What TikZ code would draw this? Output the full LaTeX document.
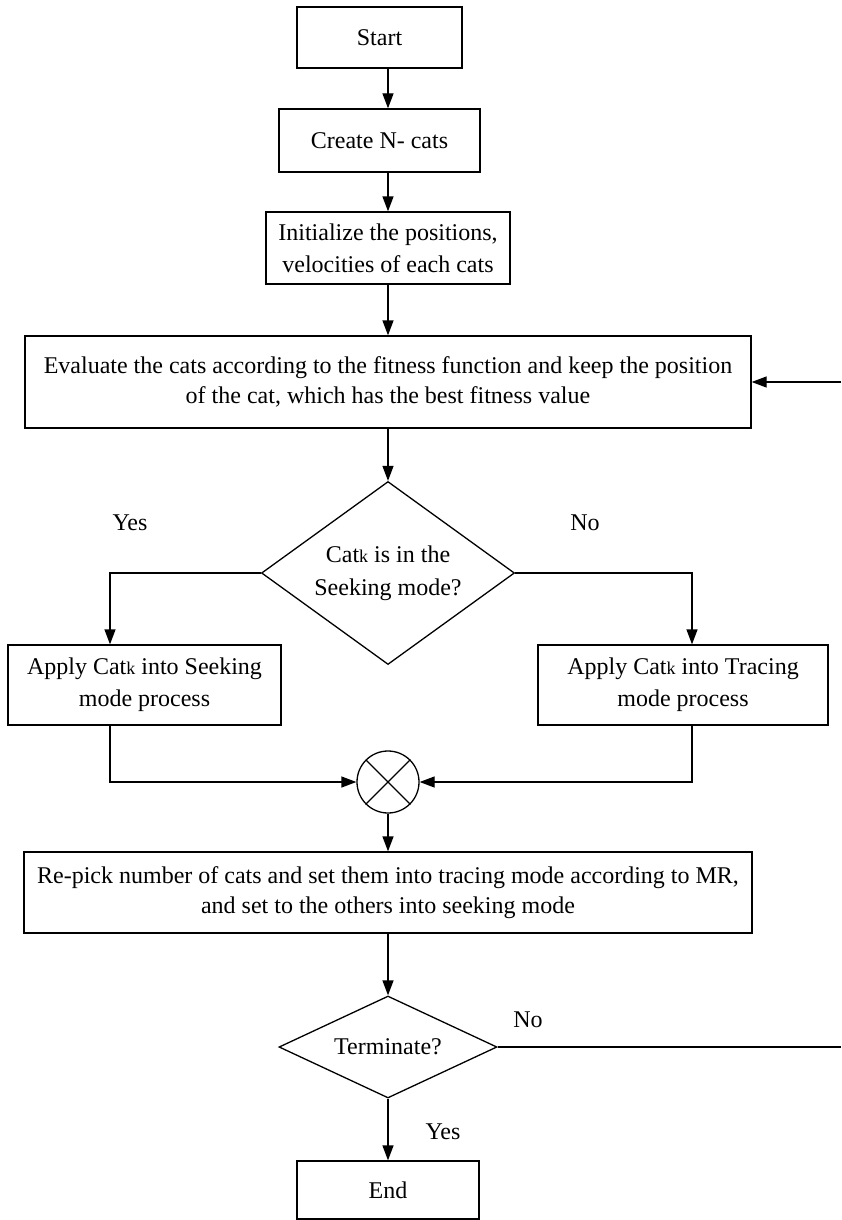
\documentclass[tikz,border=0pt]{standalone}
\usepackage{fontspec}
\setmainfont{Liberation Serif}
\usetikzlibrary{shapes.geometric,arrows.meta}
\newcommand{\smk}{{\fontsize{18}{18}\selectfont k}}
\begin{document}
\begin{tikzpicture}[x=1pt,y=-1pt,
  box/.style={draw, line width=1.3pt, align=center, inner sep=0pt, font=\fontsize{24}{30}\selectfont},
  widebox/.style={box, font=\fontsize{24}{32}\selectfont},
  dia/.style={draw, diamond, line width=1.3pt, align=center, inner sep=0pt, font=\fontsize{24}{33}\selectfont},
  lbl/.style={inner sep=0pt, font=\fontsize{24}{30}\selectfont},
  arr/.style={line width=1.3pt, -{Triangle[length=15pt,width=11pt]}},
  ln/.style={line width=1.3pt}]
\useasboundingbox (0,0) rectangle (841,1220);
\coordinate (col) at (388,0);
\coordinate (sx) at (110,0);
\coordinate (tx) at (692,0);
\coordinate (fbin) at (841,382);
\coordinate (fbno) at (841,1047);

\node[box, minimum width=165, minimum height=61] (start) at (379.5,37.5) {Start};
\node[box, minimum width=201, minimum height=63] (create) at (379.5,140.5) {Create N- cats};
\node[widebox, minimum width=244, minimum height=72] (init) at (388,248) {Initialize the positions,\\velocities of each cats};
\node[box, minimum width=726, minimum height=92] (eval) at (388,382) {Evaluate the cats according to the fitness function and keep the position\\of the cat, which has the best fitness value};
\node[dia, minimum width=253, minimum height=183, shape aspect=1.38] (d1) at (388,573) {Cat\smk{} is in the\\Seeking mode?};
\node[widebox, minimum width=273, minimum height=80] (seek) at (144.5,685) {Apply Cat\smk{} into Seeking\\mode process};
\node[widebox, minimum width=290, minimum height=80] (trace) at (683,685) {Apply Cat\smk{} into Tracing\\mode process};
\node[draw, circle, minimum size=62, line width=1.3pt, inner sep=0pt] (x) at (388,782) {};
\draw[ln] (x.45) -- (x.225);
\draw[ln] (x.135) -- (x.315);
\node[box, minimum width=728, minimum height=81] (repick) at (388,892.5) {Re-pick number of cats and set them into tracing mode according to MR,\\and set to the others into seeking mode};
\node[dia, minimum width=218, minimum height=102, shape aspect=2.14] (d2) at (388,1047) {Terminate?};
\node[box, minimum width=182, minimum height=58] (end) at (388,1190) {End};

\node[lbl] (yes1) at (130,523) {Yes};
\node[lbl] (no1) at (585,523) {No};
\node[lbl] (no2) at (528,1020) {No};
\node[lbl] (yes2) at (443,1132) {Yes};

\draw[arr] (start.south -| col) -- (create.north -| col);
\draw[arr] (create.south -| col) -- (init.north);
\draw[arr] (init.south) -- (eval.north);
\draw[arr] (eval.south) -- (d1.north);
\draw[arr] (d1.west) -| (sx |- seek.north);
\draw[arr] (d1.east) -| (tx |- trace.north);
\draw[arr] (sx |- seek.south) |- (x.west);
\draw[arr] (tx |- trace.south) |- (x.east);
\draw[arr] (x.south) -- (repick.north);
\draw[arr] (repick.south) -- (d2.north);
\draw[arr] (d2.south) -- (end.north);
\draw[arr] (fbin) -- (eval.east);
\draw[ln] (d2.east) -- (fbno);
\end{tikzpicture}
\end{document}
